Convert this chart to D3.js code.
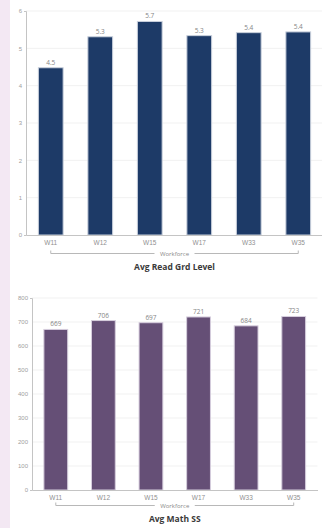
<!DOCTYPE html>
<html>
<head>
<meta charset="utf-8">
<script src="https://cdn.jsdelivr.net/npm/d3@7"></script>
<style>
  html, body { margin: 0; padding: 0; background: #fff; }
  svg { display: block; font-family: "Open Sans", sans-serif; }
</style>
</head>
<body>
<div id="wrapper"></div>
<script>
// data
const categories = ['W11', 'W12', 'W15', 'W17', 'W33', 'W35'];
const readValues = [4.48, 5.31, 5.72, 5.34, 5.42, 5.44];
const mathValues = [669, 706, 697, 721, 684, 723];
const readTicks = [0, 1, 2, 3, 4, 5, 6];
const mathTicks = [0, 100, 200, 300, 400, 500, 600, 700, 800];
const groupLabel = 'Workforce';

const width = 322, height = 528;

const svg = d3.select('#wrapper')
    .append('svg')
    .attr('width', width)
    .attr('height', height);

// lavender strip on the left
svg.append('rect')
    .attr('x', 0).attr('y', 0)
    .attr('width', 10).attr('height', height)
    .attr('fill', '#f3e8f3');

function drawChart(opts) {
    const g = svg.append('g');
    const xScale = d3.scaleBand()
        .domain(categories)
        .range([opts.left, opts.right])
        .paddingInner(0.5)
        .paddingOuter(0.25);
    const yScale = d3.scaleLinear()
        .domain(opts.domain)
        .range([opts.bottom, opts.top]);

    // gridlines
    g.append('g')
        .selectAll('line')
        .data(opts.ticks.slice(1))
        .join('line')
        .attr('x1', opts.left).attr('x2', opts.right)
        .attr('y1', d => yScale(d)).attr('y2', d => yScale(d))
        .attr('stroke', '#f1f1f1')
        .attr('stroke-width', 1);

    // bars
    g.append('g')
        .selectAll('rect')
        .data(opts.values)
        .join('rect')
        .attr('x', (d, i) => xScale(categories[i]))
        .attr('y', d => yScale(d))
        .attr('width', xScale.bandwidth())
        .attr('height', d => opts.bottom - yScale(d))
        .attr('fill', opts.color)
        .attr('stroke', opts.stroke)
        .attr('stroke-width', 1);

    // value labels
    g.append('g')
        .selectAll('text')
        .data(opts.values)
        .join('text')
        .attr('x', (d, i) => xScale(categories[i]) + xScale.bandwidth() / 2)
        .attr('y', d => yScale(d) - 3)
        .attr('text-anchor', 'middle')
        .attr('fill', '#858585')
        .style('font-size', '6.5px')
        .text(d => opts.format(d));

    // y axis
    const yAxis = g.append('g')
        .attr('transform', `translate(${opts.left},0)`)
        .call(d3.axisLeft(yScale)
            .tickValues(opts.ticks)
            .tickFormat(d3.format('d'))
            .tickSize(0).tickSizeOuter(2).tickPadding(4));
    yAxis.select('.domain').attr('stroke', '#c4c4c4');
    yAxis.selectAll('text').attr('fill', '#a0a0a0').style('font-size', '6px');

    // x axis
    const xAxis = g.append('g')
        .attr('transform', `translate(0,${opts.bottom})`)
        .call(d3.axisBottom(xScale).tickSize(0).tickSizeOuter(0).tickPadding(5));
    xAxis.select('.domain').attr('stroke', '#c4c4c4');
    xAxis.selectAll('text').attr('fill', '#909090').style('font-size', '6.5px');

    // group bracket
    const x0 = xScale(categories[0]) + xScale.bandwidth() / 2;
    const x1 = xScale(categories[categories.length - 1]) + xScale.bandwidth() / 2;
    const xm = (x0 + x1) / 2;
    const by = opts.bottom + opts.bracketOffset;
    const bracket = g.append('g').attr('stroke', '#b8b8b8').attr('fill', 'none');
    bracket.append('path')
        .attr('d', `M${x0},${by - 3}V${by}H${xm - 20}`);
    bracket.append('path')
        .attr('d', `M${xm + 20},${by}H${x1}V${by - 3}`);
    g.append('text')
        .attr('x', xm)
        .attr('y', by + 2)
        .attr('text-anchor', 'middle')
        .attr('fill', '#8a8a8a')
        .style('font-size', '6px')
        .text(groupLabel);

    // title
    g.append('text')
        .attr('x', xm)
        .attr('y', by + 16)
        .attr('text-anchor', 'middle')
        .attr('fill', '#3a3a3a')
        .style('font-size', '8.5px')
        .style('font-weight', 'bold')
        .text(opts.title);
}

drawChart({
    values: readValues,
    ticks: readTicks,
    domain: [0, 6],
    left: 26, right: 323, top: 11, bottom: 235,
    color: '#1d3a67', stroke: '#c9d0dc',
    format: d3.format('.1f'),
    bracketOffset: 18.5,
    title: 'Avg Read Grd Level'
});

drawChart({
    values: mathValues,
    ticks: mathTicks,
    domain: [0, 800],
    left: 32, right: 317.5, top: 298, bottom: 490,
    color: '#654f76', stroke: '#d6cedd',
    format: d3.format('d'),
    bracketOffset: 15.5,
    title: 'Avg Math SS'
});
</script>
</body>
</html>
